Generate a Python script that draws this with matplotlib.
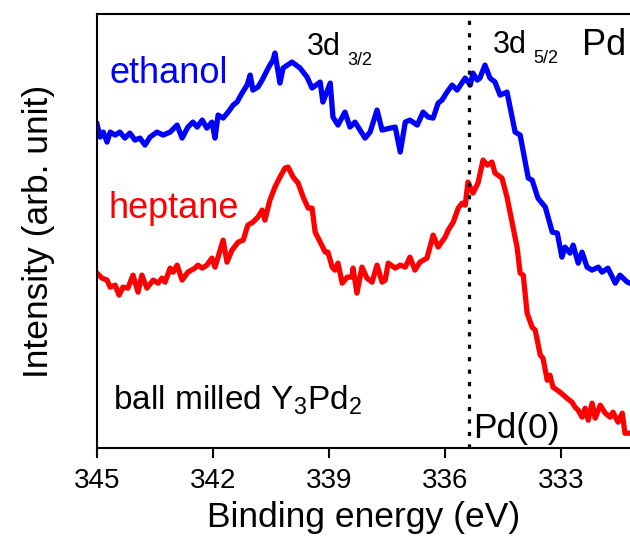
import matplotlib
matplotlib.use("Agg")
import matplotlib.pyplot as plt

plt.rcParams['font.family'] = ['Liberation Sans', 'DejaVu Sans']
plt.rcParams['mathtext.default'] = 'regular'

# Pd 3d spectra, binding energy (eV) vs intensity (arb. unit)
ethanol_be = [345.00, 344.92, 344.84, 344.74, 344.66, 344.53, 344.41, 344.28, 344.15, 344.02,
              343.89, 343.76, 343.63, 343.45, 343.29, 343.11, 342.93, 342.80, 342.65, 342.52,
              342.41, 342.28, 342.16, 342.03, 341.95, 341.87, 341.74, 341.61, 341.48, 341.38,
              341.25, 341.12, 341.04, 340.97, 340.84, 340.73, 340.60, 340.53, 340.45, 340.40,
              340.27, 340.19, 339.96, 339.75, 339.57, 339.44, 339.23, 339.16, 338.97, 338.90,
              338.77, 338.59, 338.46, 338.33, 338.07, 337.94, 337.76, 337.63, 337.42, 337.29,
              337.16, 337.03, 336.91, 336.72, 336.57, 336.44, 336.31, 336.18, 336.08, 335.95,
              335.82, 335.69, 335.48, 335.35, 335.28, 335.17, 335.10, 334.97, 334.84, 334.71,
              334.58, 334.40, 334.19, 334.06, 333.85, 333.75, 333.60, 333.41, 333.23, 333.10,
              332.98, 332.90, 332.77, 332.69, 332.56, 332.46, 332.33, 332.20, 332.04, 331.94,
              331.79, 331.60, 331.48, 331.29, 331.22]
ethanol_int = [324, 311, 316, 306, 316, 313, 316, 310, 315, 308,
               310, 303, 311, 316, 313, 316, 323, 310, 321, 326,
               321, 328, 320, 326, 310, 333, 330, 336, 343, 346,
               355, 363, 373, 358, 361, 368, 378, 383, 388, 395,
               365, 380, 386, 380, 371, 360, 366, 346, 365, 331,
               323, 336, 321, 326, 310, 316, 338, 318, 320, 321,
               296, 326, 328, 323, 336, 331, 330, 345, 348, 356,
               363, 358, 370, 363, 375, 368, 370, 383, 370, 366,
               353, 356, 316, 313, 270, 268, 250, 241, 216, 215,
               191, 201, 195, 203, 185, 196, 181, 178, 181, 176,
               180, 165, 173, 166, 165]

heptane_be = [345.00, 344.87, 344.74, 344.66, 344.53, 344.43, 344.33, 344.20, 344.07, 343.94,
              343.84, 343.71, 343.55, 343.42, 343.32, 343.24, 343.11, 343.03, 342.93, 342.80,
              342.65, 342.47, 342.39, 342.28, 342.16, 342.03, 341.95, 341.87, 341.74, 341.64,
              341.51, 341.35, 341.22, 341.10, 340.97, 340.84, 340.73, 340.66, 340.53, 340.40,
              340.27, 340.14, 340.06, 339.93, 339.80, 339.67, 339.54, 339.44, 339.36, 339.23,
              339.10, 339.03, 338.92, 338.85, 338.77, 338.66, 338.53, 338.41, 338.38, 338.28,
              338.15, 338.02, 337.89, 337.76, 337.63, 337.55, 337.47, 337.29, 337.16, 337.03,
              336.91, 336.78, 336.65, 336.47, 336.31, 336.18, 336.00, 335.92, 335.79, 335.66,
              335.56, 335.48, 335.41, 335.28, 335.15, 335.02, 334.91, 334.79, 334.71, 334.53,
              334.40, 334.27, 334.14, 334.06, 333.98, 333.88, 333.75, 333.67, 333.54, 333.47,
              333.36, 333.29, 333.21, 333.03, 332.85, 332.72, 332.64, 332.56, 332.46, 332.38,
              332.30, 332.20, 332.12, 331.99, 331.86, 331.73, 331.66, 331.53, 331.42, 331.35,
              331.22]
heptane_int = [175, 170, 168, 161, 163, 153, 161, 160, 173, 156,
               173, 160, 168, 165, 170, 166, 180, 176, 183, 168,
               176, 180, 183, 180, 183, 190, 181, 191, 208, 186,
               198, 206, 208, 223, 226, 231, 238, 228, 248, 261,
               271, 280, 281, 271, 265, 251, 240, 240, 216, 206,
               196, 196, 181, 178, 185, 165, 171, 171, 180, 155,
               181, 170, 166, 183, 166, 168, 185, 180, 183, 181,
               191, 178, 186, 190, 213, 201, 211, 218, 226, 240,
               245, 243, 266, 255, 265, 288, 283, 286, 275, 270,
               251, 226, 201, 175, 173, 135, 121, 118, 93, 90,
               68, 73, 61, 56, 50, 46, 41, 38, 31, 40,
               28, 45, 30, 43, 35, 31, 36, 26, 35, 15,
               15]

pd0_position = 335.38
xticks = [345, 342, 339, 336, 333]

fig = plt.figure(figsize=(6.3, 5.4), dpi=100)
ax = fig.add_axes([0.154, 0.170, 0.846, 0.804])

ax.plot(ethanol_be, ethanol_int, color='#0000ff', lw=3.8, solid_joinstyle='round')
ax.plot(heptane_be, heptane_int, color='#ff0000', lw=3.8, solid_joinstyle='round')
ax.axvline(pd0_position, color='black', lw=2.3, linestyle=(0, (1.3, 2.6)))

ax.set_xlim(345, 331.22)
ax.set_ylim(0, 434)
ax.set_xticks(xticks)
ax.set_xticklabels([str(t) for t in xticks])
ax.set_yticks([])
ax.spines['right'].set_visible(False)
for side in ['left', 'bottom', 'top']:
    ax.spines[side].set_linewidth(1.5)
ax.tick_params(axis='x', direction='out', length=7, width=1.5, labelsize=20, pad=7)

ax.set_xlabel('Binding energy (eV)', fontsize=25.5, labelpad=5)
ax.set_ylabel('Intensity (arb. unit)', fontsize=25.5, labelpad=30)

# annotations
ax.text(0.024, 0.841, 'ethanol', color='#0000ff', fontsize=26, transform=ax.transAxes)
ax.text(0.021, 0.530, 'heptane', color='#ff0000', fontsize=26, transform=ax.transAxes)
ax.text(0.030, 0.088, 'ball milled Y$_3$Pd$_2$', fontsize=24, transform=ax.transAxes)
ax.text(0.705, 0.023, 'Pd(0)', fontsize=25.5, transform=ax.transAxes)
ax.text(0.394, 0.906, '3d', fontsize=22, transform=ax.transAxes)
ax.text(0.469, 0.882, '3/2', fontsize=13, transform=ax.transAxes)
ax.text(0.743, 0.910, '3d', fontsize=22, transform=ax.transAxes)
ax.text(0.818, 0.887, '5/2', fontsize=13, transform=ax.transAxes)
ax.text(0.910, 0.906, 'Pd', fontsize=26, transform=ax.transAxes)

fig.savefig('out.png', dpi=100)
